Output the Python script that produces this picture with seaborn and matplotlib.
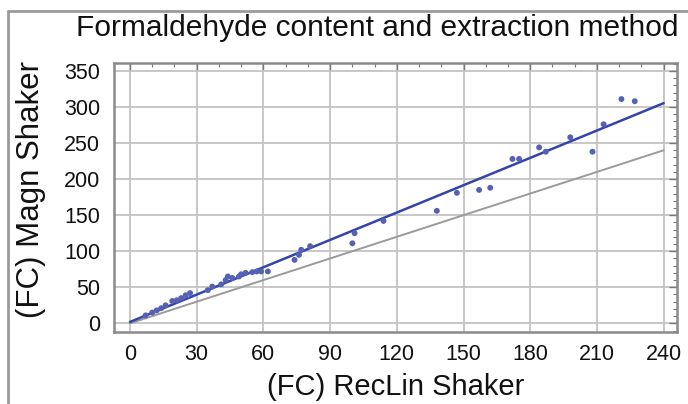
import numpy as np
import pandas as pd
import matplotlib
matplotlib.use("Agg")
import matplotlib.pyplot as plt
import seaborn as sns
from matplotlib.ticker import MultipleLocator
from matplotlib.lines import Line2D

# Data
reclin = [7, 10, 12, 14, 16, 19, 21, 23, 25, 27, 35, 37, 41, 43, 44, 46, 49, 50,
          52, 55, 57, 59, 62, 74, 76, 77, 81, 100, 101, 114, 138, 147, 157, 162,
          172, 175, 184, 187, 198, 208, 213, 221, 227]
magn = [11, 15, 18, 21, 25, 31, 32, 35, 39, 42, 46, 51, 54, 60, 65, 63, 65, 68,
        70, 71, 72, 72, 72, 88, 95, 102, 107, 111, 125, 142, 156, 181, 185, 188,
        228, 228, 244, 238, 258, 238, 276, 311, 308]
line_x = [0, 240]          # extent of fitted and identity lines
x_ticks = [0, 30, 60, 90, 120, 150, 180, 210, 240]
y_ticks = [0, 50, 100, 150, 200, 250, 300, 350]

title = "Formaldehyde content and extraction method"
xlabel = "(FC) RecLin Shaker"
ylabel = "(FC) Magn Shaker"

df = pd.DataFrame({"x": reclin, "y": magn})
slope, intercept = np.polyfit(df["x"], df["y"], 1)
fit_df = pd.DataFrame({"x": line_x, "y": [intercept + slope * v for v in line_x]})
ident_df = pd.DataFrame({"x": line_x, "y": line_x})

sns.set_theme(style="white")
plt.rcParams["font.family"] = ["Liberation Sans", "DejaVu Sans"]

fig = plt.figure(figsize=(6.88, 4.04), dpi=100)
ax = fig.add_axes([114 / 688, 1 - 332 / 404, (677 - 114) / 688, (332 - 63) / 404])

ax.grid(True, which="major", color="#c4c4c4", linewidth=1.3)
ax.set_axisbelow(True)

sns.lineplot(data=ident_df, x="x", y="y", ax=ax, color="#9a9a9a", linewidth=1.4)
sns.lineplot(data=fit_df, x="x", y="y", ax=ax, color="#3345a8", linewidth=1.8)
sns.scatterplot(data=df, x="x", y="y", ax=ax, color="#5561b5", s=18,
                edgecolor="none", zorder=3)

ax.set_xlim(-7.2, 246)
ax.set_ylim(-12, 361)
ax.set_xticks(x_ticks)
ax.set_yticks(y_ticks)
ax.xaxis.set_minor_locator(MultipleLocator(10))
ax.yaxis.set_minor_locator(MultipleLocator(10))
ax.tick_params(which="both", direction="in", top=True, right=True,
               colors="#777777", labelcolor="#111111")
ax.tick_params(which="major", length=6, width=1.0, labelsize=15.5)
ax.tick_params(which="minor", length=3, width=0.8)
ax.tick_params(axis="x", pad=9)
ax.tick_params(axis="y", pad=10)
for s in ax.spines.values():
    s.set_color("#8a8a8a")
    s.set_linewidth(1.8)

ax.set_xlabel(xlabel, fontsize=21, color="#111111")
ax.set_ylabel(ylabel, fontsize=22.5, color="#111111")
ax.xaxis.set_label_coords((396 - 114) / 563, -(373 - 332) / 269)
ax.yaxis.set_label_coords((46 - 114) / 563, (332 - 190) / 269)
fig.text(377 / 688, 1 - 28 / 404, title, fontsize=21.5, color="#111111",
         ha="center", va="center")

# figure frame (left and top)
fig.add_artist(Line2D([8 / 688, 8 / 688], [0, 1 - 11 / 404], transform=fig.transFigure,
                      color="#9a9a9a", linewidth=2))
fig.add_artist(Line2D([8 / 688, 1], [1 - 11 / 404, 1 - 11 / 404], transform=fig.transFigure,
                      color="#9a9a9a", linewidth=2))

fig.savefig("out.png", dpi=100)
